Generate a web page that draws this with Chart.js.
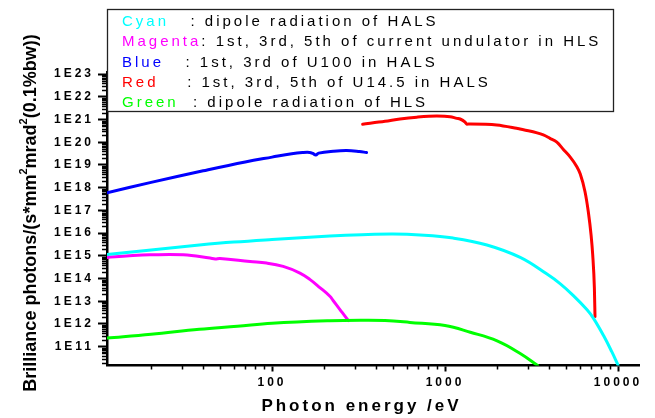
<!DOCTYPE html>
<html>
<head>
<meta charset="utf-8">
<script src="https://cdn.jsdelivr.net/npm/chart.js@4/dist/chart.umd.min.js"></script>
<style>
html,body{margin:0;padding:0;background:#fff;}
#wrap{width:655px;height:418px;position:relative;}
canvas{display:block;}
</style>
</head>
<body>
<div id="wrap"><canvas id="c" width="655" height="418"></canvas></div>
<script>
// ---------- DATA ----------
const xTickValues = [100, 1000, 10000];
const yTickValues = [1e11, 1e12, 1e13, 1e14, 1e15, 1e16, 1e17, 1e18, 1e19, 1e20, 1e21, 1e22, 1e23];

const cyanEnergy = [11.12, 20, 38, 60, 100, 216, 330, 500, 717, 1116, 1746, 2720, 3865, 4640, 5500, 6620, 7200, 8260, 9200, 10000];
const cyanBrill  = [1.15e15, 1.8e15, 2.95e15, 4.0e15, 5.2e15, 7.4e15, 8.5e15, 9.1e15, 8.3e15, 6.0e15, 3.0e15, 8.5e14, 1.6e14, 5.8e13, 1.8e13, 4.2e12, 1.8e12, 3.0e11, 6.0e10, 1.55e10];

const magentaEnergy = [11.12, 15, 19.7, 30.7, 43.8, 46.9, 50, 74.6, 93, 116, 145, 166, 189, 216, 226, 247, 262, 276];
const magentaBrill  = [8.5e14, 1.0e15, 1.1e15, 1.1e15, 7.9e14, 7.2e14, 7.6e14, 5.6e14, 4.8e14, 3.4e14, 1.74e14, 8.9e13, 4.0e13, 1.66e13, 1.05e13, 4.3e12, 2.4e12, 1.4e12];

const blueEnergy = [11.12, 20, 40, 70, 100, 130, 150, 165, 172, 179, 186, 226, 270, 320, 352];
const blueBrill  = [6.0e17, 1.7e18, 5.5e18, 1.35e19, 2.2e19, 3.1e19, 3.5e19, 3.55e19, 3.2e19, 2.75e19, 3.3e19, 4.0e19, 4.3e19, 3.9e19, 3.5e19];

const redEnergy = [334, 450, 549, 687, 896, 1070, 1170, 1222, 1306, 1334, 1400, 1990, 2590, 2720, 2840, 3700, 4040, 4430, 4830, 5280, 5770, 6050, 6440, 6730, 6990, 7140, 7300, 7360];
const redBrill  = [6.2e20, 8.3e20, 1.05e21, 1.26e21, 1.41e21, 1.32e21, 1.12e21, 1.05e21, 7.6e20, 6.2e20, 6.3e20, 5.75e20, 4.1e20, 3.8e20, 3.55e20, 2.1e20, 1.48e20, 1.0e20, 4.8e19, 2.25e19, 8.5e18, 4.0e18, 6.8e17, 8.9e16, 7.9e15, 1.1e15, 3.8e13, 2.1e12];

const greenEnergy = [11.12, 20, 38, 63, 100, 216, 330, 450, 627, 1000, 1400, 2000, 2720, 3430];
const greenBrill  = [2.4e11, 3.5e11, 5.8e11, 7.9e11, 1.07e12, 1.38e12, 1.45e12, 1.41e12, 1.17e12, 8.5e11, 4.3e11, 1.8e11, 5.0e10, 1.48e10];

const legendLabels = ['Cyan   ', 'Magenta', 'Blue   ', 'Red    ', 'Green  '];
const legendTexts = [
  ': dipole radiation of HALS',
  ': 1st, 3rd, 5th of current undulator in HLS',
  ': 1st, 3rd of U100 in HALS',
  ': 1st, 3rd, 5th of U14.5 in HALS',
  ': dipole radiation of HLS'
];
const xTitle = 'Photon energy /eV';
const yTitleParts = [['Brilliance photons/(s*mm', false], ['2', true], ['mrad', false], ['2', true], ['(0.1%bw))', false]];

// ---------- STYLE ----------
const FONT = '"Liberation Sans", Arial, Helvetica, sans-serif';
const colors = { cyan: '#00FFFF', magenta: '#FF00FF', blue: '#0000FF', red: '#FF0000', green: '#00FF00' };
const legendColors = [colors.cyan, colors.magenta, colors.blue, colors.red, colors.green];

function series(E, B, color, monotone) {
  const ds = {
    data: E.map((e, i) => ({ x: e, y: B[i] })),
    borderColor: color,
    backgroundColor: color,
    borderWidth: 3,
    pointRadius: 0,
    fill: false,
    borderCapStyle: 'round',
    borderJoinStyle: 'round'
  };
  if (monotone) ds.cubicInterpolationMode = 'monotone';
  else ds.tension = 0.4;
  return ds;
}

const decor = {
  id: 'decor',
  beforeDraw(chart) { chart.ctx.letterSpacing = '3px'; },
  beforeDatasetsDraw(chart) { chart.ctx.letterSpacing = '0px'; },
  afterDraw(chart) {
    const ctx = chart.ctx;
    const xs = chart.scales.x, ys = chart.scales.y;
    const a = chart.chartArea;
    ctx.save();
    // minor ticks
    ctx.strokeStyle = '#000';
    ctx.lineWidth = 1.5;
    ctx.beginPath();
    for (let k = 10; k <= 23; k++) {
      for (let m = 2; m <= 9; m++) {
        const v = m * Math.pow(10, k);
        if (v < ys.min || v > ys.max) continue;
        const y = Math.round(ys.getPixelForValue(v)) + 0.5;
        ctx.moveTo(a.left - 5, y); ctx.lineTo(a.left, y);
      }
    }
    for (let k = 1; k <= 4; k++) {
      for (let m = 2; m <= 9; m++) {
        const v = m * Math.pow(10, k);
        if (v < xs.min || v > xs.max) continue;
        const x = Math.round(xs.getPixelForValue(v)) + 0.5;
        ctx.moveTo(x, a.bottom); ctx.lineTo(x, a.bottom + 4);
      }
    }
    ctx.stroke();

    // x title
    ctx.fillStyle = '#000';
    ctx.font = 'bold 17px ' + FONT;
    ctx.letterSpacing = '3px';
    ctx.textAlign = 'center';
    ctx.textBaseline = 'alphabetic';
    ctx.fillText(xTitle, (a.left + a.right) / 2 + 1.5 - 13, 411);

    // y title (rotated, with superscripts)
    ctx.letterSpacing = '0px';
    ctx.save();
    ctx.translate(36, 213);
    ctx.rotate(-Math.PI / 2);
    ctx.textAlign = 'left';
    const normalFont = 'bold 18px ' + FONT, supFont = 'bold 11px ' + FONT;
    let total = 0;
    yTitleParts.forEach(([t, sup]) => { ctx.font = sup ? supFont : normalFont; total += ctx.measureText(t).width; });
    let px = -total / 2;
    yTitleParts.forEach(([t, sup]) => {
      ctx.font = sup ? supFont : normalFont;
      ctx.fillText(t, px, sup ? -9 : 0);
      px += ctx.measureText(t).width;
    });
    ctx.restore();

    // legend box
    ctx.fillStyle = '#fff';
    ctx.fillRect(107.5, 9.5, 506, 102);
    ctx.strokeStyle = '#222';
    ctx.lineWidth = 1.3;
    ctx.strokeRect(107.5, 9.5, 506, 102);
    ctx.font = '15px ' + FONT;
    ctx.letterSpacing = '3px';
    ctx.textAlign = 'left';
    ctx.textBaseline = 'middle';
    legendLabels.forEach((lab, i) => {
      const y = 22 + i * 20.2;
      ctx.fillStyle = legendColors[i];
      ctx.fillText(lab, 122, y);
      const w = ctx.measureText(lab).width;
      ctx.fillStyle = '#000';
      ctx.fillText(legendTexts[i], 122 + w, y);
    });
    ctx.letterSpacing = '0px';
    ctx.restore();
  }
};

new Chart(document.getElementById('c'), {
  type: 'line',
  data: {
    datasets: [
      series(greenEnergy, greenBrill, colors.green, false),
      series(cyanEnergy, cyanBrill, colors.cyan, false),
      series(magentaEnergy, magentaBrill, colors.magenta, false),
      series(blueEnergy, blueBrill, colors.blue, false),
      series(redEnergy, redBrill, colors.red, true)
    ]
  },
  options: {
    responsive: false,
    animation: false,
    devicePixelRatio: 1,
    layout: { padding: { top: 72, right: 16, left: 0, bottom: 0 } },
    plugins: { legend: { display: false }, tooltip: { enabled: false } },
    scales: {
      x: {
        type: 'logarithmic',
        position: 'bottom',
        min: 11.12,
        max: 13220,
        afterBuildTicks: s => { s.ticks = xTickValues.map(v => ({ value: v, major: true })); },
        afterFit: s => { s.height = 52.5; },
        ticks: {
          callback: v => String(v),
          autoSkip: false,
          maxRotation: 0,
          color: '#000',
          padding: 4,
          font: { family: FONT, size: 12, weight: 'bold' }
        },
        grid: { display: true, drawOnChartArea: false, drawTicks: true, tickLength: 6, tickWidth: 2, tickColor: '#000' },
        border: { display: true, color: '#000', width: 2.5 }
      },
      y: {
        type: 'logarithmic',
        position: 'left',
        min: 1.48e10,
        max: 1.23e23,
        afterBuildTicks: s => { s.ticks = yTickValues.map(v => ({ value: v, major: true })); },
        afterFit: s => { s.width = 107; },
        ticks: {
          callback: v => '1E' + Math.round(Math.log10(v)),
          autoSkip: false,
          color: '#000',
          padding: 4,
          font: { family: FONT, size: 12, weight: 'bold' }
        },
        grid: { display: true, drawOnChartArea: false, drawTicks: true, tickLength: 9, tickWidth: 2, tickColor: '#000' },
        border: { display: true, color: '#000', width: 2.5 }
      }
    }
  },
  plugins: [decor]
});
</script>
</body>
</html>
